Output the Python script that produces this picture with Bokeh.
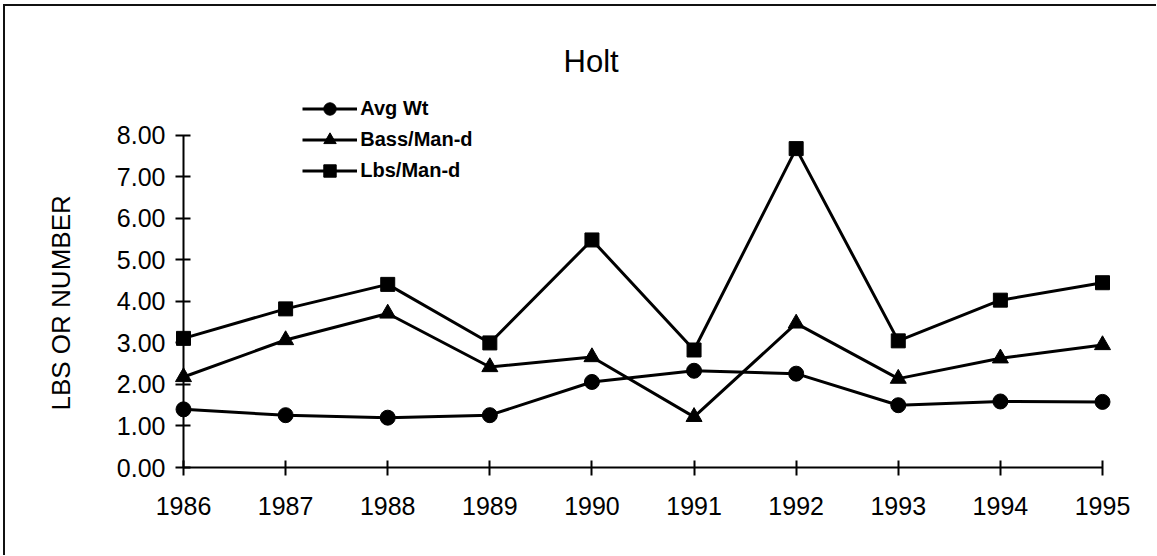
from bokeh.plotting import figure
from bokeh.models import Range1d, FixedTicker, PrintfTickFormatter, Legend, LegendItem, Title
from bokeh.embed import file_html
from bokeh.resources import INLINE

# ---- data ----
years = [1986, 1987, 1988, 1989, 1990, 1991, 1992, 1993, 1994, 1995]
avg_wt = [1.40, 1.26, 1.20, 1.26, 2.06, 2.33, 2.26, 1.50, 1.59, 1.58]
bass_man_d = [2.18, 3.07, 3.71, 2.42, 2.66, 1.22, 3.47, 2.14, 2.63, 2.95]
lbs_man_d = [3.11, 3.82, 4.41, 3.00, 5.48, 2.83, 7.68, 3.05, 4.03, 4.45]
series_names = ["Avg Wt", "Bass/Man-d", "Lbs/Man-d"]
y_ticks = [0, 1, 2, 3, 4, 5, 6, 7, 8]
x_ticks = years
title_text = "Holt"
y_label = "LBS OR NUMBER"

FONT = "'Liberation Sans', Arial, Helvetica, sans-serif"

p = figure(
    frame_width=919, frame_height=382,
    min_border_left=178, min_border_right=54,
    min_border_top=79, min_border_bottom=88,
    x_range=Range1d(1986, 1995), y_range=Range1d(0, 9.2),
    output_backend="svg", toolbar_location=None, title=title_text,
)
p.styles = {"border-top": "2px solid #111", "border-left": "2px solid #111",
            "border-right": "none", "border-bottom": "none",
            "margin-top": "4px", "margin-left": "3px"}

p.background_fill_color = "white"
p.border_fill_color = "white"
p.outline_line_color = None
p.grid.visible = False

p.title.text_font = FONT
p.title.text_font_size = "31px"
p.title.text_font_style = "normal"
p.title.text_color = "black"
p.title.align = "left"
p.title.offset = 380
p.title.standoff = 14

markers = ["circle", "triangle", "square"]
sizes = [15, 16, 14]
items = []
for name, vals, m, s in zip(series_names, [avg_wt, bass_man_d, lbs_man_d], markers, sizes):
    ln = p.line(years, vals, line_color="black", line_width=3, level="overlay")
    sc = p.scatter(years, vals, marker=m, size=s, fill_color="black", line_color="black",
                   level="overlay")
    items.append(LegendItem(label=name, renderers=[ln, sc]))

legend = Legend(items=items, location=(119.3, 281.5))
legend.glyph_width = 55
legend.glyph_height = 31
legend.label_height = 31
legend.spacing = 0
legend.padding = 0
legend.margin = 0
legend.border_line_color = None
legend.background_fill_alpha = 0
legend.label_text_font = FONT
legend.label_text_font_style = "bold"
legend.label_text_font_size = "20px"
legend.label_text_color = "black"
legend.label_standoff = 3
p.add_layout(legend)

for ax in (p.xaxis[0], p.yaxis[0]):
    ax.major_tick_in = 7
    ax.major_tick_out = 8
    ax.minor_tick_in = 0
    ax.minor_tick_out = 0
    ax.major_tick_line_width = 2
    ax.major_tick_line_color = "black"
    ax.axis_line_width = 2
    ax.axis_line_color = "black"
    ax.major_label_text_font = FONT
    ax.major_label_text_font_size = "25px"
    ax.major_label_text_color = "black"

p.xaxis.ticker = FixedTicker(ticks=x_ticks)
p.xaxis.major_label_standoff = 21

p.yaxis.ticker = FixedTicker(ticks=y_ticks)
p.yaxis.bounds = (0, 8)
p.yaxis.formatter = PrintfTickFormatter(format="%.2f")
p.yaxis.major_label_standoff = 10

# y-axis title, placed so that it is centred on the 0-8 part of the axis
ytitle = Title(text=y_label, align="left", offset=57, standoff=76,
               vertical_align="bottom", text_font=FONT, text_font_size="26px",
               text_font_style="normal", text_color="black")
p.add_layout(ytitle, "left")

open("out.html", "w").write(file_html(p, INLINE))
